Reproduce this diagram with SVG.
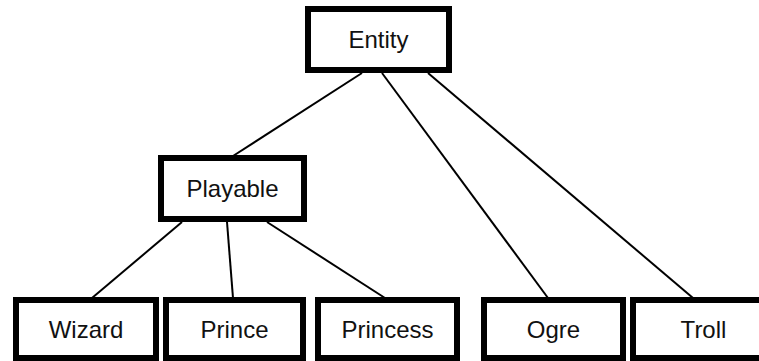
<svg xmlns="http://www.w3.org/2000/svg" width="759" height="361" viewBox="0 0 759 361">
  <style>
    .box { fill: #ffffff; stroke: #000000; stroke-width: 6; }
    .lbl { font-family: "Liberation Sans", Arial, sans-serif; font-size: 24px; fill: #111111; text-anchor: middle; }
    .edge { stroke: #000000; stroke-width: 2; fill: none; }
  </style>
  <rect x="0" y="0" width="759" height="361" fill="#ffffff"/>

  <!-- hierarchy links -->
  <g id="connectors">
    <line class="edge" x1="362" y1="73" x2="233" y2="156"/>
    <line class="edge" x1="382" y1="73" x2="548" y2="298"/>
    <line class="edge" x1="428" y1="73" x2="693" y2="298"/>
    <line class="edge" x1="182" y1="222" x2="92" y2="298"/>
    <line class="edge" x1="227" y1="222" x2="233" y2="298"/>
    <line class="edge" x1="267" y1="222" x2="385" y2="298"/>
  </g>

  <g id="entity">
    <rect class="box" x="308" y="9" width="141" height="61"/>
    <text class="lbl" x="378.5" y="48">Entity</text>
  </g>
  <g id="playable">
    <rect class="box" x="161" y="158" width="143" height="61"/>
    <text class="lbl" x="232.5" y="197">Playable</text>
  </g>
  <g id="wizard">
    <rect class="box" x="16" y="300" width="140" height="58"/>
    <text class="lbl" x="86" y="338">Wizard</text>
  </g>
  <g id="prince">
    <rect class="box" x="166" y="300" width="137" height="58"/>
    <text class="lbl" x="234.5" y="338">Prince</text>
  </g>
  <g id="princess">
    <rect class="box" x="318" y="300" width="139" height="58"/>
    <text class="lbl" x="387.5" y="338">Princess</text>
  </g>
  <g id="ogre">
    <rect class="box" x="484" y="300" width="139" height="58"/>
    <text class="lbl" x="553.5" y="338">Ogre</text>
  </g>
  <g id="troll">
    <rect class="box" x="633" y="300" width="139" height="58"/>
    <text class="lbl" x="703.5" y="338">Troll</text>
  </g>
</svg>
